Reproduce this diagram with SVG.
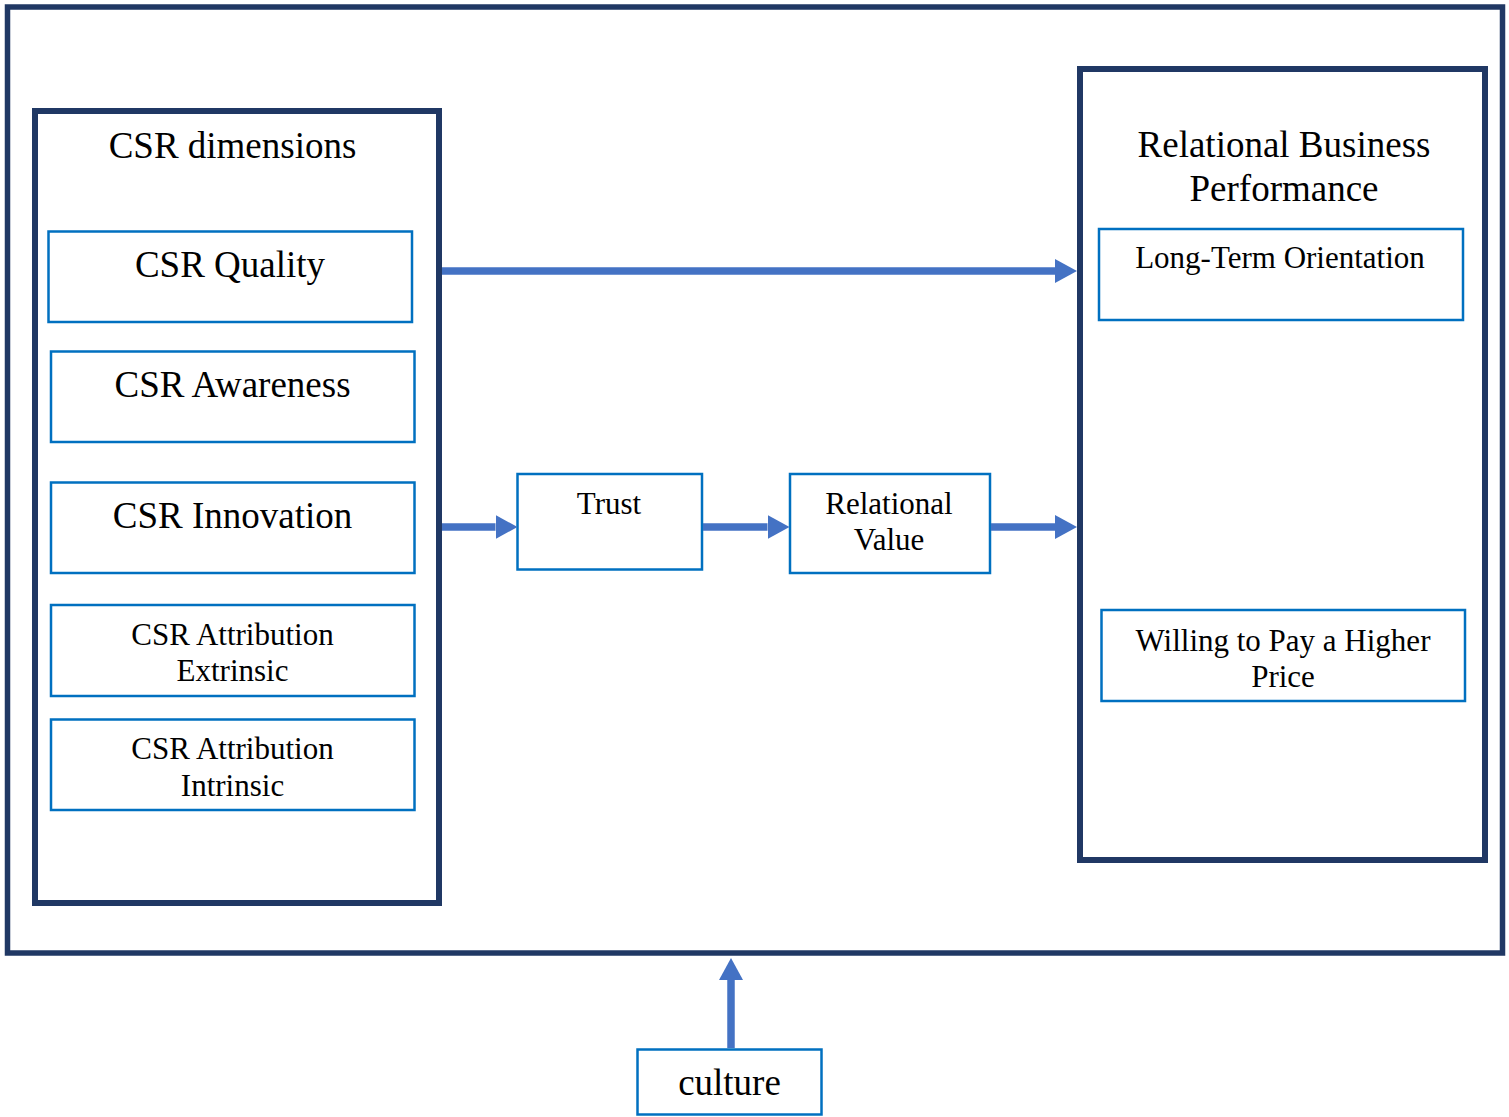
<svg xmlns="http://www.w3.org/2000/svg" width="1509" height="1117" viewBox="0 0 1509 1117">
<style>
.frame{fill:none;stroke:#203864;stroke-width:5.5}
.group{fill:none;stroke:#203864;stroke-width:6}
.box{fill:#fff;stroke:#0070C0;stroke-width:2.5}
.conn{stroke:#4472C4;stroke-width:7.5;fill:none}
text{font-family:"Liberation Serif","Times New Roman",serif;fill:#000;text-anchor:middle}
.lg{font-size:37px}
.sm{font-size:31px}
</style>
<defs>
<marker id="ah" markerUnits="userSpaceOnUse" markerWidth="22" markerHeight="24" refX="0" refY="12" orient="auto" viewBox="0 0 22 24">
<path d="M0,0 L22,12 L0,24 Z" fill="#4472C4"/>
</marker>
</defs>
<rect width="1509" height="1117" fill="#fff"/>
<g id="outer-frame"><rect class="frame" x="7.5" y="7" width="1495" height="946"/></g>
<g id="csr-dimensions">
<rect class="group" x="35" y="111" width="404" height="792"/>
<text class="lg" x="232.5" y="158">CSR dimensions</text>
</g>
<g id="csr-quality"><rect class="box" x="48.5" y="231.5" width="363.5" height="90.5"/><text class="lg" x="230" y="277">CSR Quality</text></g>
<g id="csr-awareness"><rect class="box" x="51" y="351.5" width="363.5" height="90.5"/><text class="lg" x="232.5" y="397">CSR Awareness</text></g>
<g id="csr-innovation"><rect class="box" x="51" y="482.5" width="363.5" height="90.5"/><text class="lg" x="232.5" y="528">CSR Innovation</text></g>
<g id="csr-extrinsic"><rect class="box" x="51" y="605" width="363.5" height="91"/><text class="sm" x="232.5" y="645">CSR Attribution</text><text class="sm" x="232.5" y="681">Extrinsic</text></g>
<g id="csr-intrinsic"><rect class="box" x="51" y="719.5" width="363.5" height="90.5"/><text class="sm" x="232.5" y="759">CSR Attribution</text><text class="sm" x="232.5" y="796">Intrinsic</text></g>
<g id="rbp">
<rect class="group" x="1080" y="69" width="405" height="791"/>
<text class="lg" x="1284" y="157">Relational Business</text>
<text class="lg" x="1284" y="201">Performance</text>
</g>
<g id="long-term"><rect class="box" x="1099" y="229" width="364" height="91"/><text class="sm" x="1280" y="268">Long-Term Orientation</text></g>
<g id="willing"><rect class="box" x="1101.5" y="610" width="363.5" height="91"/><text class="sm" x="1283" y="651">Willing to Pay a Higher</text><text class="sm" x="1283" y="687">Price</text></g>
<g id="trust"><rect class="box" x="517.5" y="474" width="184.5" height="95.5"/><text class="sm" x="609" y="514">Trust</text></g>
<g id="relational-value"><rect class="box" x="790" y="474" width="200" height="99"/><text class="sm" x="889" y="514">Relational</text><text class="sm" x="889" y="550">Value</text></g>
<g id="culture"><rect class="box" x="637.5" y="1049.5" width="184" height="65"/><text class="lg" x="729.5" y="1095">culture</text></g>
<g id="connectors">
<line class="conn" x1="442" y1="271" x2="1055" y2="271" marker-end="url(#ah)"/>
<line class="conn" x1="442" y1="527" x2="495.5" y2="527" marker-end="url(#ah)"/>
<line class="conn" x1="703" y1="527" x2="767.5" y2="527" marker-end="url(#ah)"/>
<line class="conn" x1="991" y1="527" x2="1055" y2="527" marker-end="url(#ah)"/>
<line class="conn" x1="731" y1="1048" x2="731" y2="980" marker-end="url(#ah)"/>
</g>
</svg>
